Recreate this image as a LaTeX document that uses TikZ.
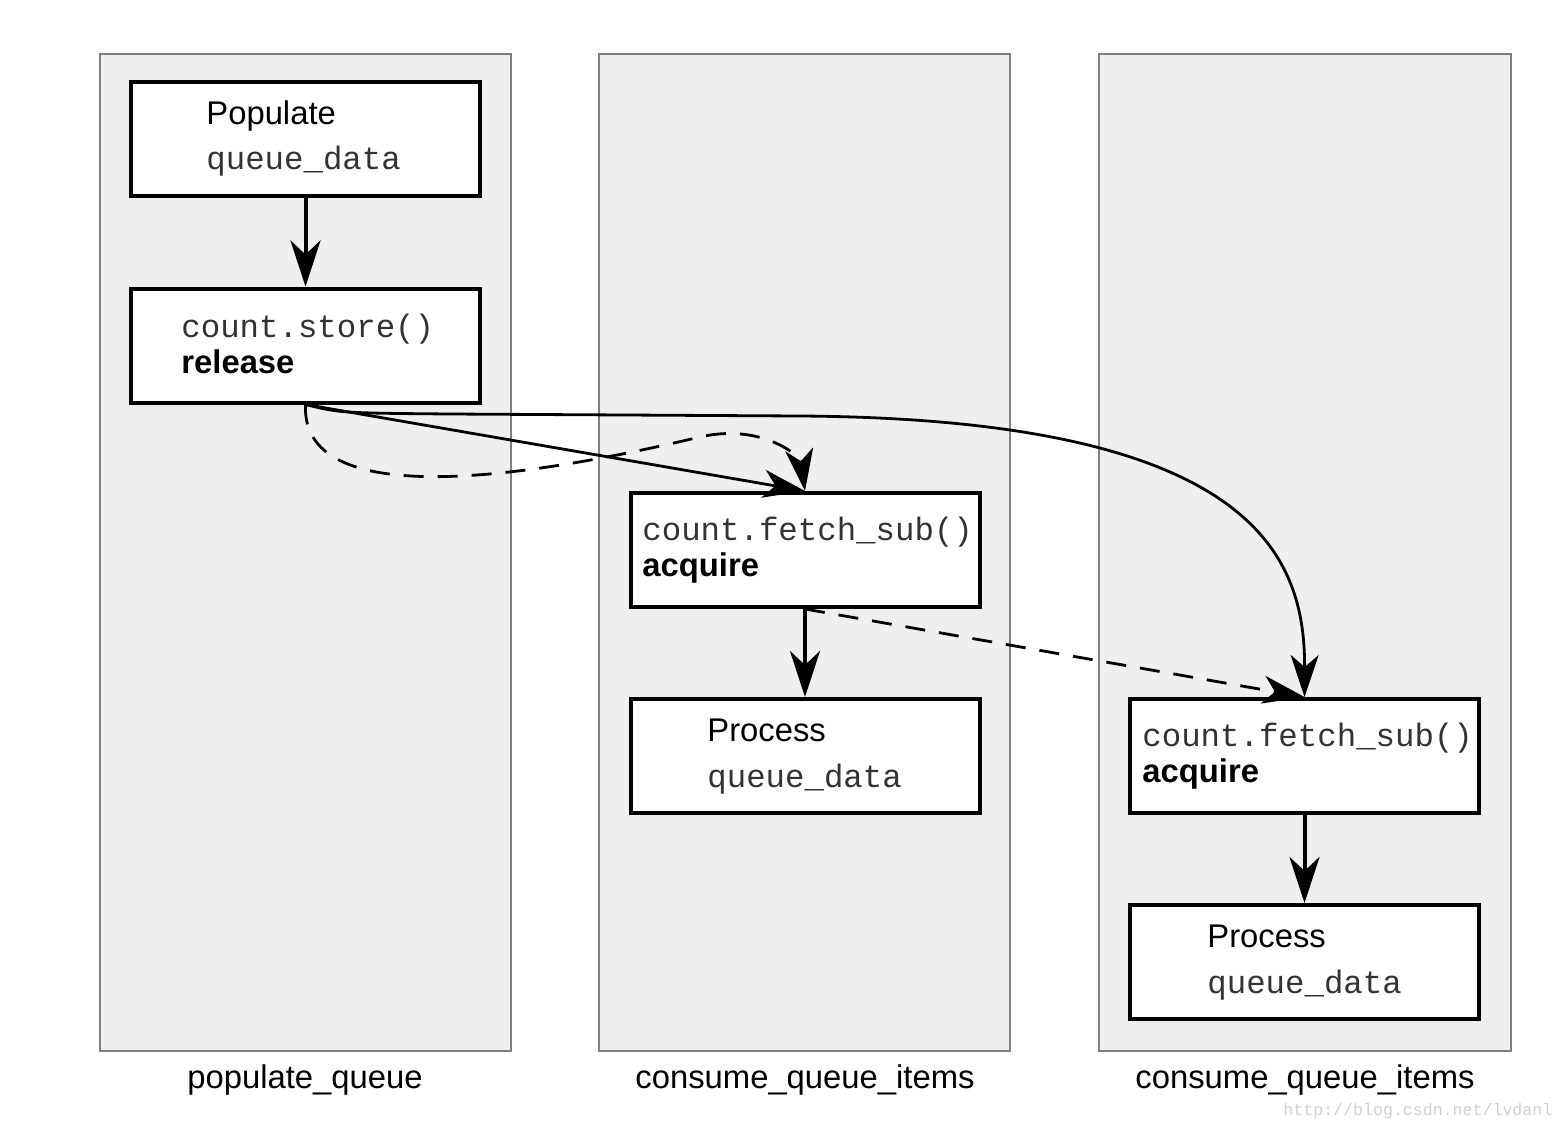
\documentclass[tikz,border=0pt]{standalone}
\usepackage{fontspec}
\setmainfont{Liberation Sans}
\setmonofont{Liberation Mono}
\usetikzlibrary{arrows.meta}
\definecolor{lanefill}{HTML}{EFEFEF}
\definecolor{laneline}{HTML}{7F7F7F}
\definecolor{monogray}{HTML}{333333}
\definecolor{wmark}{HTML}{D0D0D0}
\tikzset{
  lane/.style={draw=laneline,fill=lanefill,line width=0.8pt},
  box/.style={draw=black,fill=white,line width=2pt,minimum width=174.5pt,minimum height=57pt,inner sep=0pt},
  txt/.style={anchor=base west,inner sep=0pt,font=\fontsize{16.4}{20}\selectfont},
  mono/.style={anchor=base west,inner sep=0pt,text=monogray,font=\fontsize{16.2}{20}\selectfont\ttfamily},
  bold/.style={anchor=base west,inner sep=0pt,font=\fontsize{16.4}{20}\selectfont\bfseries},
  lbl/.style={anchor=base,inner sep=0pt,font=\fontsize{16.4}{20}\selectfont},
  thick arrow/.style={line width=2pt,-{Stealth[length=23pt,width=15pt,inset=7pt]}},
  thin arrow/.style={line width=1.4pt,-{Stealth[length=21pt,width=14pt,inset=6pt]}},
  dash arrow/.style={line width=1.4pt,dash pattern=on 10pt off 7pt,-{Stealth[length=21pt,width=14pt,inset=6pt]}},
}
\begin{document}
\begin{tikzpicture}[x=0.5pt,y=-0.5pt]
\useasboundingbox (0,0) rectangle (1564,1130);
% lanes
\draw[lane] (100,54) rectangle (511,1051);
\draw[lane] (599,54) rectangle (1010,1051);
\draw[lane] (1099,54) rectangle (1511,1051);
\node[lbl] (l1) at (305,1088) {populate\_queue};
\node[lbl] (l2) at (805,1088) {consume\_queue\_items};
\node[lbl] (l3) at (1305,1088) {consume\_queue\_items};
% boxes
\node[box] (b1) at (305.5,139) {};
\node[box] (b2) at (305.5,345.5) {};
\node[box] (b3) at (805,550) {};
\node[box] (b4) at (805,756) {};
\node[box] (b5) at (1304.5,756) {};
\node[box] (b6) at (1304.5,962) {};
% texts
\node[txt] (t1a) at (206,124) {Populate};
\node[mono] (t1b) at (206,169) {queue\_data};
\node[mono] (t2a) at (181,337) {count.store()};
\node[bold] (t2b) at (181,373) {release};
\node[mono] (t3a) at (642,540) {count.fetch\_sub()};
\node[bold] (t3b) at (642,576) {acquire};
\node[txt] (t4a) at (707,741) {Process};
\node[mono] (t4b) at (707,787) {queue\_data};
\node[mono] (t5a) at (1142,746) {count.fetch\_sub()};
\node[bold] (t5b) at (1142,782) {acquire};
\node[txt] (t6a) at (1207,947) {Process};
\node[mono] (t6b) at (1207,993) {queue\_data};
% connectors
\draw[thick arrow] (b1.south) -- (b2.north);
\draw[thick arrow] (b3.south) -- (b4.north);
\draw[thick arrow] (b5.south) -- (b6.north);
\draw[thin arrow] (b2.south) -- (b3.north);
\draw[thin arrow] (b2.south) .. controls (340,413) .. (450,414) -- (800,416)
  .. controls (1260,419) and (1305,560) .. (b5.north);
\draw[dash arrow] (b2.south) .. controls (300,520) and (560,470) .. (700,437)
  .. controls (760,423) and (800,455) .. (b3.north);
\draw[dash arrow] (b3.south) -- (b5.north);
% watermark
\node[anchor=base west,inner sep=0pt,text=wmark,font=\fontsize{8.3}{10}\selectfont\ttfamily] (wm) at (1283,1115) {http://blog.csdn.net/lvdanl};
\end{tikzpicture}
\end{document}
